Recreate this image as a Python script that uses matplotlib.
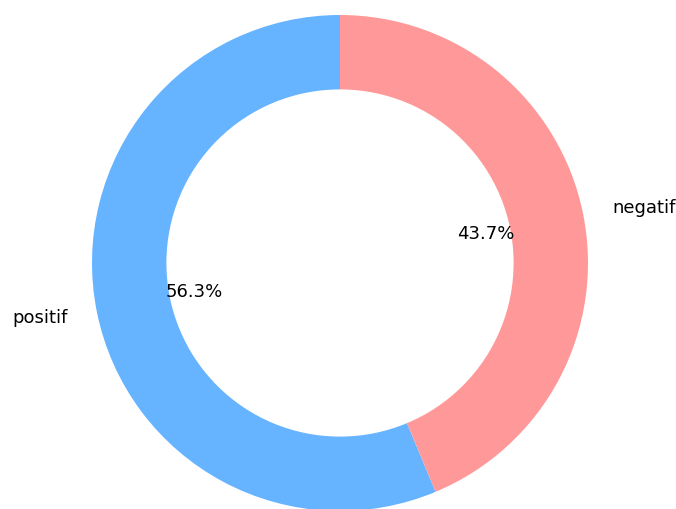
import matplotlib
matplotlib.use("Agg")
import matplotlib.pyplot as plt

# data
labels = ['positif', 'negatif']
sizes = [56.3, 43.7]
colors = ['#66b3ff', '#ff9999']

fig = plt.figure(figsize=(6.76, 5.09), dpi=100)
ax = fig.add_axes([0, 0, 1, 1])

ax.pie(sizes, labels=labels, colors=colors, autopct='%1.1f%%',
       startangle=90, labeldistance=1.12, textprops={'fontsize': 13})

# white centre to make the donut
centre_circle = plt.Circle((0, 0), 0.70, fc='white')
ax.add_artist(centre_circle)

# place circle like the reference (centre ~ (340, 263) px, radius ~248 px)
r = 248
ax.set_xlim(-340 / r, (676 - 340) / r)
ax.set_ylim(-(509 - 263) / r, 263 / r)
ax.set_aspect('auto')
ax.axis('off')

plt.savefig("out.png", dpi=100)
